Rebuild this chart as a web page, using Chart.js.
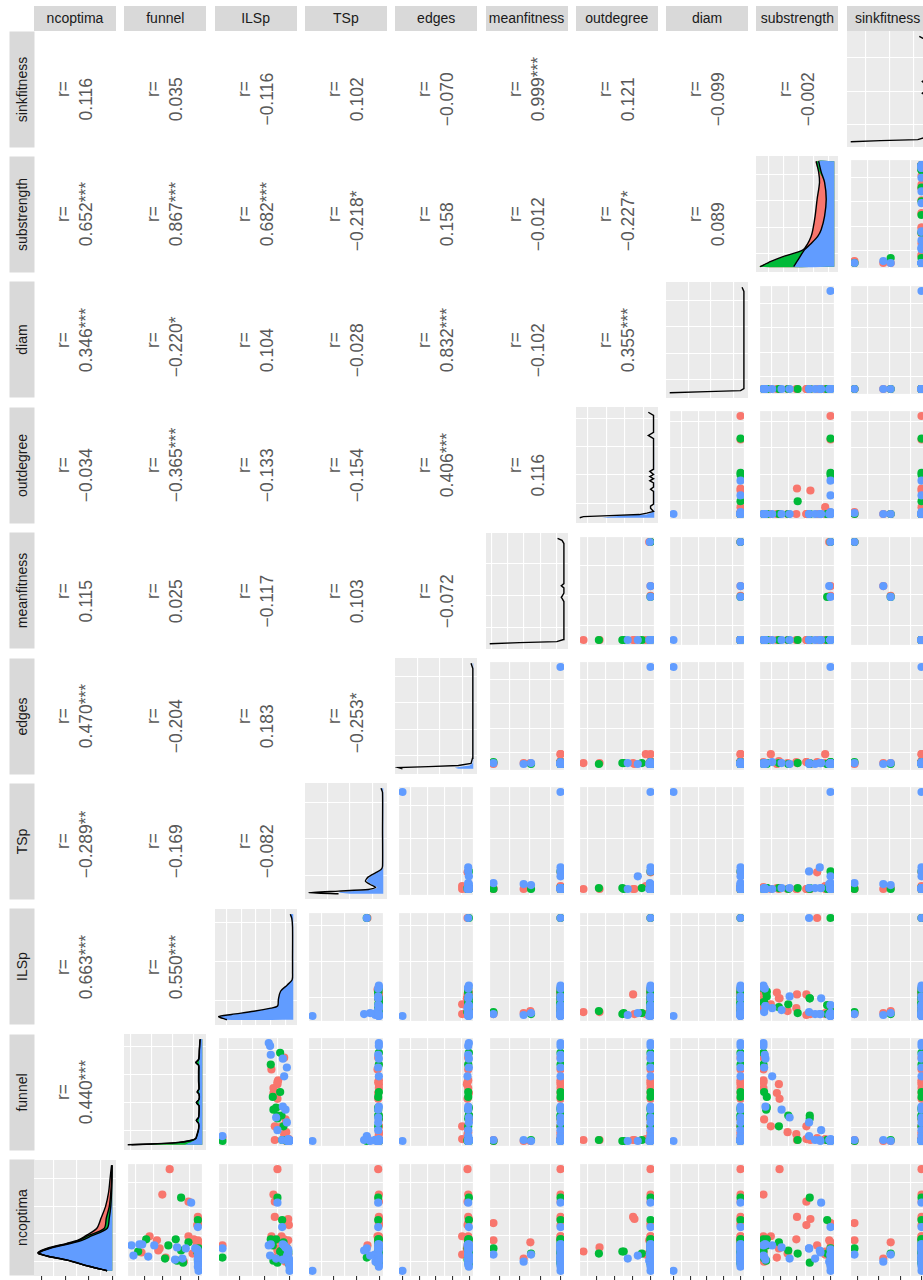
<!DOCTYPE html>
<html>
<head>
<meta charset="utf-8">
<title>pairs</title>
<script src="https://cdn.jsdelivr.net/npm/chart.js@4.4.1/dist/chart.umd.min.js"></script>
<style>
  html, body { margin: 0; padding: 0; background: #fff; overflow: hidden; }
  body { position: relative; width: 923px; height: 1280px; font-family: "Liberation Sans", Arial, Helvetica, sans-serif; }
  .strip { position: absolute; background: #d9d9d9; color: #1a1a1a; font-size: 14px; text-align: center; white-space: nowrap; overflow: hidden; }
  .rot { transform: rotate(-90deg); }
  .cor { position: absolute; color: #595959; font-size: 17.5px; line-height: 23px; text-align: center; white-space: pre; display: flex; flex-direction: column; justify-content: center; }
  .cor .pad { visibility: hidden; }
  canvas { position: absolute; }
</style>
</head>
<body>
<script>
// variables in matrix order (bottom-left diagonal = first)
const varNames = ["ncoptima", "funnel", "ILSp", "TSp", "edges", "meanfitness", "outdegree", "diam", "substrength", "sinkfitness"];
const groupColors = ["#F8766D", "#00BA38", "#619CFF"];

const cls = [0,0,0,0,0,0,0,0,0,0, 0,0,0,0,0,0,0,0,0,0, 0,0,0,0,0,
             1,1,1,1,1,1,1,1,1,1, 1,1,1,1,1,1,1,1,1,1,
             2,2,2,2,2,2,2,2,2,2, 2,2,2,2,2,2,2,2,2,2, 2,2,2,2,2,2,2];
const ncoptima    = [100,75,68,34,34,31,22,17,30,20, 18,13,9,53,45,19,47,30,12,28, 25,23,16,51,19,
                     72,31,31,28,25,20,19,12,10,8, 50,22,17,13,17,19,17,11,7,19,
                     67,25,26,26,25,23,22,15,14,11, 12,43,16,9,16,0,22,20,15,12, 12,10,8,6,4,18,21];
const funnel      = [43,54,15,73,15,7,58,9,62,60, 85,49,22,1,2,1,0,1,0,0, 3,1,2,1,1,
                     26,78,34,15,45,26,90,50,32,23, 1,0,1,0,1,0,1,1,0,0,
                     11,100,88,84,66,32,19,97,75,35, 24,1,1,1,0,0,5,1,0,0, 1,0,0,0,1,0,2];
const ILSp        = [18,24,22,27,12,8,18,5,17,18, 8,24,6,22,1,4,3,2,3,5, 100,4,2,2,3,
                     18,28,20,9,25,12,14,14,24,18, 11,4,2,100,5,3,3,4,1,2,
                     18,31,28,10,8,6,4,29,4,10, 20,11,2,1,3,0,100,2,3,1, 2,0,1,0,0,2,2];
const TSp         = [2,1,1,3,1,1,1,1,1,2, 2,2,1,1,1,1,1,2,1,2, 18,1,4,1,1,
                     2,1,2,2,2,1,1,1,2,1, 2,1,1,19,2,1,2,2,2,2,
                     2,1,2,1,1,2,2,1,2,1, 2,2,7,6,5,100,19,23,14,1, 2,1,2,1,1,2,1];
const edges       = [3,2,3,2,11,3,4,2,2,3, 2,1,1,2,3,2,2,1,2,2, 3,2,11,1,2,
                     1,2,1,2,2,1,1,2,2,2, 1,3,1,1,1,2,2,3,1,2,
                     2,1,2,1,3,2,1,2,1,2, 1,1,2,1,2,100,2,2,1,2, 1,1,2,2,1,2,1];
const meanfitness = [0,0,0,0,0,0,0,0,0,0, 0,0,0,0,0,0,100,100,55,45, 0,0,0,0,0,
                     0,0,0,0,0,0,0,0,0,0, 0,100,44,0,0,0,0,0,0,0,
                     0,0,0,0,0,0,0,0,0,0, 0,0,100,55,44,0,0,0,0,0, 0,0,0,0,0,0,0];
const outdegree   = [0,0,0,0,0,0,0,0,0,0, 0,0,0,26,0,100,0,2,0,0, 0,76,7,24,0,
                     0,0,0,0,0,0,0,0,0,0, 0,0,0,0,77,40,13,0,0,42,
                     0,0,0,0,0,0,0,0,0,0, 0,0,1,0,0,0,0,0,19,34, 0,2,0,0,0,0,0];
const diam        = [0,0,0,0,0,0,0,0,0,0, 0,0,0,0,0,0,0,0,0,0, 0,0,0,0,0,
                     0,0,0,0,0,0,0,0,0,0, 0,0,0,0,0,0,0,0,0,0,
                     0,0,0,0,0,0,0,0,0,0, 0,0,0,0,0,100,0,0,0,0, 0,0,0,0,0,0,0];
const substrength = [76,100,36,100,89,51,77,64,100,100, 100,80,99,50,36,0,0,2,0,0, 20,0,8,30,8,
                     31,100,95,77,95,63,100,99,96,31, 5,0,5,0,0,0,49,0,0,0,
                     14,100,98,97,87,73,32,100,99,97, 61,0,0,2,0,0,32,16,0,0, 23,0,0,0,0,15,0];
const sinkfitness = [0,0,0,0,0,0,0,0,0,0, 0,0,0,0,0,0,100,100,57,46, 0,0,0,0,0,
                     0,0,0,0,0,0,0,0,0,0, 0,100,46,0,0,0,0,0,0,0,
                     0,0,0,0,0,0,0,0,0,0, 0,0,100,57,46,0,0,0,0,0, 0,0,0,0,0,0,0];
const columns = [ncoptima, funnel, ILSp, TSp, edges, meanfitness, outdegree, diam, substrength, sinkfitness];

// correlation labels, corLabels[row variable][column variable]
const corLabels = [
  [],
  ["0.440***"],
  ["0.663***", "0.550***"],
  ["\u22120.289**", "\u22120.169", "\u22120.082"],
  ["0.470***", "\u22120.204", "0.183", "\u22120.253*"],
  ["0.115", "0.025", "\u22120.117", "0.103", "\u22120.072"],
  ["\u22120.034", "\u22120.365***", "\u22120.133", "\u22120.154", "0.406***", "0.116"],
  ["0.346***", "\u22120.220*", "0.104", "\u22120.028", "0.832***", "\u22120.102", "0.355***"],
  ["0.652***", "0.867***", "0.682***", "\u22120.218*", "0.158", "\u22120.012", "\u22120.227*", "0.089"],
  ["0.116", "0.035", "\u22120.116", "0.102", "\u22120.070", "0.999***", "0.121", "\u22120.099", "\u22120.002"]
];

// axis breaks on the same 0-100 scale: tick marks, and the white lines that show between them
const tickAt = [
  [9, 35, 61, 87], [0, 26.7, 53.3, 80], [0, 37, 74], [0, 34.5, 69], [0, 25, 50, 75, 100],
  [0, 30.5, 61, 91.5], [0, 27, 54, 81], [0, 25, 50, 75, 100], [0, 25, 50, 75, 100], [0, 32, 64, 96]
];
const lineAt = [
  [9, 35, 61, 87], [13.3, 40, 66.7, 93.3], [18.5, 55.5, 92.5], [17, 52, 86], [12.5, 37.5, 62.5, 87.5],
  [15, 46, 76], [13.5, 40.5, 67.5, 94.5], [12.5, 37.5, 62.5, 87.5], [12.5, 37.5, 62.5, 87.5], [16, 48, 80]
];
const densTickAt = [0, 31.7, 63.3, 95];
const densLineAt = [
  [15.8, 47.5, 79], [12, 40, 68, 96], [10, 30, 50, 70, 90], [15, 45, 75], [15, 45, 75],
  [11, 32, 54, 76, 97], [14, 40, 64, 90], [15, 45, 75], [8, 28, 48, 68, 88], [16, 48, 80]
];

// density curves (stacked: all groups, green+blue, blue)
const ncoptimaDensAt    = [0, 4, 10, 14, 17, 22, 26, 29, 33, 40, 50, 61, 74, 87, 100];
const ncoptimaDensAll   = [7, 30, 61, 88, 100, 84, 61, 46, 36, 21, 15, 9, 5, 3, 1];
const ncoptimaDensGreen = [7, 30, 61, 88, 99, 82, 58, 44, 33, 11, 8, 4, 2, 1, 0.5];
const ncoptimaDensBlue  = [7, 30, 60, 87, 98, 80, 55, 40, 28, 7, 4, 2, 1, 0.3, 0.2];

const funnelDensAt    = [0, 1, 2, 4, 6, 10, 15, 20, 23, 26, 30, 37, 40, 43, 48, 50, 53, 60, 70, 75, 78, 81, 90, 100];
const funnelDensAll   = [100, 60, 36, 16, 9, 7, 5, 5, 8, 5, 4.5, 4.5, 8, 4.5, 4.5, 7, 4.5, 5, 5, 5, 9, 5, 4, 3];
const funnelDensGreen = [95, 55, 32, 15, 8.5, 6.5, 4.8, 4.8, 8, 4.8, 4.3, 4.3, 8, 4.3, 4.3, 6.5, 4.3, 4.5, 4.5, 4.5, 8.5, 4.5, 3.8, 2.8];
const funnelDensBlue  = [23, 20, 16, 11, 8, 6, 4.5, 4.5, 4.5, 4.5, 4.2, 4.2, 4.2, 4.2, 4.2, 4.2, 4.2, 4.2, 4.2, 4.2, 4.2, 4.2, 3.6, 2.7];

const ILSpDensAt  = [0, 3, 5, 8, 11, 13, 19, 27, 33, 38, 45, 58, 88, 96, 100];
const ILSpDensAll = [89, 100, 83, 53, 30, 21, 20, 17, 8, 1.5, 1, 1, 1, 2, 4];

const TSpDensAt   = [0, 1, 2.5, 4, 6, 9, 12, 16, 20, 23, 26, 60, 96, 100];
const TSpDensAll  = [60, 100, 60, 20, 10, 18, 24, 20, 10, 3, 1, 1, 1, 3];
const TSpDensBlue = [40, 60, 40, 15, 8, 16, 22, 18, 9, 2, 0.5, 0.5, 0.5, 2];

const edgesDensAt   = [0, 1, 2, 3, 5, 10, 50, 95, 100];
const edgesDensAll  = [95, 100, 60, 20, 3, 1, 0.6, 0.6, 3];
const edgesDensBlue = [20, 25, 15, 5, 1, 0.3, 0.2, 0.2, 1];

const meanfitnessDensAt  = [0, 1, 2, 4, 40, 43, 44, 45, 48, 53, 55, 57, 60, 95, 98, 100];
const meanfitnessDensAll = [100, 60, 10, 1, 0.5, 3, 4, 3, 0.5, 0.5, 4, 0.5, 0.5, 0.5, 3, 9];

const outdegreeDensAt   = [0, 1, 2, 3, 4.4, 6, 9, 11, 13, 25, 27, 29, 33, 35, 37, 39, 41, 44, 46, 75, 78, 81, 97, 100];
const outdegreeDensAll  = [100, 95, 60, 20, 10, 1, 5, 5, 1, 1, 5, 1, 1, 6, 1, 6, 1, 6, 1, 1, 8, 1, 1, 8];
const outdegreeDensBlue = [70, 60, 40, 10, 5, 0.5, 0.3, 0.3, 0.3, 0.3, 0.3, 0.3, 0.3, 0.3, 0.3, 0.3, 0.3, 0.3, 0.3, 0.3, 0.3, 0.3, 0.3, 0.3];

const diamDensAt  = [0, 1, 2, 4, 96, 100];
const diamDensAll = [100, 50, 5, 0.5, 0.5, 3];

const substrengthDensAt    = [0, 5, 10, 16, 22, 29, 35, 48, 64, 80, 90, 100];
const substrengthDensAll   = [99.5, 85, 67, 42, 35.6, 31, 28.8, 25.7, 23, 19.8, 21, 24.4];
const substrengthDensGreen = [99.5, 84, 66, 40, 31, 22, 17.6, 13, 10.8, 13, 20, 23];
const substrengthDensBlue  = [54.5, 50, 45.5, 40, 31, 22, 17.6, 13, 10.8, 13, 17.6, 21];

const sinkfitnessDensAt  = [0, 1, 2, 4, 44, 46, 48, 55, 57, 59, 97, 100];
const sinkfitnessDensAll = [100, 60, 10, 0.5, 0.5, 4, 0.5, 0.5, 4, 0.5, 0.5, 8];

const RED = groupColors[0], GREEN = groupColors[1], BLUE = groupColors[2];
const diagSpec = [
  { at: ncoptimaDensAt, fills: [[ncoptimaDensAll, RED], [ncoptimaDensGreen, GREEN], [ncoptimaDensBlue, BLUE]], lines: [ncoptimaDensAll, ncoptimaDensGreen, ncoptimaDensBlue], tension: 0.3 },
  { at: funnelDensAt, fills: [[funnelDensAll, RED], [funnelDensGreen, GREEN], [funnelDensBlue, BLUE]], lines: [funnelDensAll, funnelDensGreen], tension: 0.2 },
  { at: ILSpDensAt, fills: [[ILSpDensAll, BLUE]], lines: [ILSpDensAll], tension: 0.3 },
  { at: TSpDensAt, fills: [[TSpDensBlue, BLUE]], lines: [TSpDensAll], tension: 0.2 },
  { at: edgesDensAt, fills: [[edgesDensBlue, BLUE]], lines: [edgesDensAll], tension: 0 },
  { at: meanfitnessDensAt, fills: [], lines: [meanfitnessDensAll], tension: 0 },
  { at: outdegreeDensAt, fills: [[outdegreeDensBlue, BLUE]], lines: [outdegreeDensAll], tension: 0 },
  { at: diamDensAt, fills: [], lines: [diamDensAll], tension: 0 },
  { at: substrengthDensAt, fills: [[substrengthDensAll, RED], [substrengthDensGreen, GREEN], [substrengthDensBlue, BLUE]], lines: [substrengthDensAll, substrengthDensBlue], tension: 0.3 },
  { at: sinkfitnessDensAt, fills: [], lines: [sinkfitnessDensAll], tension: 0 }
];

// panel grid
const X0 = 34, DX = 90.3, PW = 82;
const Y0 = 31, DY = 125.4, PH = 116;
const N = varNames.length;

const panelBg = {
  id: 'panelBg',
  beforeDraw(chart) {
    const a = chart.chartArea, ctx = chart.ctx;
    ctx.save();
    ctx.fillStyle = '#EBEBEB';
    ctx.fillRect(a.left, a.top, a.right - a.left, a.bottom - a.top);
    ctx.restore();
  }
};

function scale(lines, marks, reverse, withTicks) {
  return {
    type: 'linear', min: -5, max: 105, reverse: reverse,
    afterBuildTicks: s => {
      const t = lines.map(v => ({ value: v, ln: true }));
      if (withTicks) marks.forEach(v => t.push({ value: v, tk: true }));
      s.ticks = t.sort((a, b) => a.value - b.value);
    },
    ticks: { display: false },
    border: { display: false },
    grid: {
      color: c => (c.tick && c.tick.ln) ? '#ffffff' : 'rgba(0,0,0,0)',
      lineWidth: 1.1,
      drawTicks: withTicks,
      tickLength: 4,
      tickWidth: 1.1,
      tickColor: c => (c.tick && c.tick.tk) ? '#333333' : 'rgba(0,0,0,0)'
    }
  };
}

function options(xLines, xMarks, yLines, bottom) {
  return {
    responsive: false, animation: false, events: [],
    layout: { padding: 0 },
    plugins: { legend: { display: false }, tooltip: { enabled: false } },
    scales: { x: scale(xLines, xMarks, true, bottom), y: scale(yLines, [], false, false) }
  };
}

function addCanvas(left, top, w, h) {
  const cv = document.createElement('canvas');
  cv.width = w; cv.height = h;
  cv.style.left = left + 'px'; cv.style.top = top + 'px';
  cv.style.width = w + 'px'; cv.style.height = h + 'px';
  document.body.appendChild(cv);
  return cv;
}

function addStrip(text, left, top, w, h, rotated) {
  const d = document.createElement('div');
  d.className = 'strip' + (rotated ? ' rot' : '');
  if (rotated) {
    const cx = left + w / 2, cy = top + h / 2;
    d.style.width = h + 'px'; d.style.height = w + 'px'; d.style.lineHeight = w + 'px';
    d.style.left = (cx - h / 2) + 'px'; d.style.top = (cy - w / 2) + 'px';
  } else {
    d.style.width = w + 'px'; d.style.height = h + 'px'; d.style.lineHeight = h + 'px';
    d.style.left = left + 'px'; d.style.top = top + 'px';
  }
  d.textContent = text;
  document.body.appendChild(d);
}

function addCor(label, left, top) {
  const d = document.createElement('div');
  d.className = 'cor rot';
  const cx = left + PW / 2, cy = top + PH / 2;
  d.style.width = PH + 'px'; d.style.height = PW + 'px';
  d.style.left = (cx - PH / 2) + 'px'; d.style.top = (cy - PW / 2) + 'px';
  const stars = (label.match(/\*/g) || []).length;
  const l1 = document.createElement('div'); l1.textContent = 'r=';
  const l2 = document.createElement('div'); l2.textContent = label;
  const pad = document.createElement('span'); pad.className = 'pad'; pad.textContent = '***'.slice(stars);
  l2.appendChild(pad);
  d.appendChild(l1); d.appendChild(l2);
  document.body.appendChild(d);
}

// strips
for (let c = 0; c < N; c++) addStrip(varNames[c], X0 + DX * c, 6, PW, 25, false);
for (let r = 0; r < N; r++) addStrip(varNames[N - 1 - r], 9, Y0 + DY * r, 25, PH, true);

for (let r = 0; r < N; r++) {
  const k = N - 1 - r;                 // variable on the vertical axis
  const top = Math.round(Y0 + DY * r);
  const bottom = (r === N - 1);
  for (let c = 0; c < N; c++) {
    const left = Math.round(X0 + DX * c);
    if (c < k) { addCor(corLabels[k][c], left, top); continue; }
    const cv = addCanvas(left, top, PW, PH + (bottom ? 4 : 0));
    if (c > k) {
      new Chart(cv, {
        type: 'scatter',
        data: { datasets: [{
          data: cls.map((g, i) => ({ x: columns[c][i], y: columns[k][i] })),
          pointBackgroundColor: cls.map(g => groupColors[g]),
          pointBorderWidth: 0, pointRadius: 4.1
        }] },
        options: options(lineAt[c], tickAt[c], lineAt[k], bottom),
        plugins: [panelBg]
      });
    } else {
      const sp = diagSpec[k];
      const sets = [];
      const last = sp.at.length - 1;
      sp.lines.forEach(arr => sets.push({
        data: sp.at.map((v, i) => ({ x: arr[i], y: v })),
        showLine: true, borderColor: '#000000', borderWidth: 1.4, pointRadius: 0,
        fill: false, tension: sp.tension, order: 0
      }));
      sp.fills.forEach(([arr, col], j) => sets.push({
        data: [{ x: 0, y: sp.at[0] }].concat(sp.at.map((v, i) => ({ x: arr[i], y: v })), [{ x: 0, y: sp.at[last] }]),
        showLine: true, borderWidth: 0, borderColor: col, backgroundColor: col, pointRadius: 0,
        fill: 'shape', tension: sp.tension, order: 10 - j
      }));
      new Chart(cv, {
        type: 'scatter',
        data: { datasets: sets },
        options: options(densLineAt[k], densTickAt, lineAt[k], bottom),
        plugins: [panelBg]
      });
    }
  }
}
</script>
</body>
</html>
